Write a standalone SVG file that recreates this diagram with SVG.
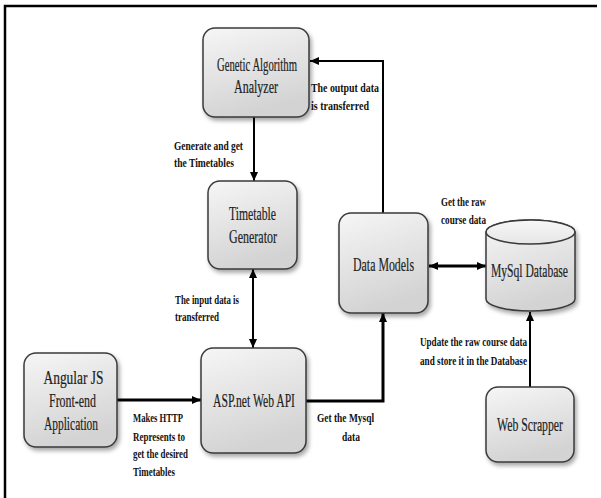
<svg xmlns="http://www.w3.org/2000/svg" width="601" height="498" viewBox="0 0 601 498">
<defs>
<linearGradient id="g" x1="0" y1="0" x2="0.3" y2="1">
<stop offset="0" stop-color="#f6f6f6"/>
<stop offset="1" stop-color="#d3d3d3"/>
</linearGradient>
<linearGradient id="gt" x1="0" y1="0" x2="0" y2="1">
<stop offset="0" stop-color="#f7f7f7"/>
<stop offset="1" stop-color="#e6e6e6"/>
</linearGradient>
<filter id="sh" x="-20%" y="-20%" width="150%" height="150%">
<feDropShadow dx="2" dy="3" stdDeviation="2" flood-color="#000" flood-opacity="0.35"/>
</filter>
<marker id="ah" viewBox="0 0 9 8" refX="9" refY="4" markerWidth="9" markerHeight="8" markerUnits="userSpaceOnUse" orient="auto-start-reverse">
<path d="M0,0 L9,4 L0,8 z" fill="#000"/>
</marker>
</defs>
<style>
.box{fill:url(#g);stroke:#3a3a3a;stroke-width:1.5;filter:url(#sh)}
.nl{font-family:"Liberation Serif","Times New Roman",serif;font-size:18px;fill:#1e1e1e;text-anchor:middle;stroke:#1e1e1e;stroke-width:0.2}
.el{font-family:"Liberation Serif","Times New Roman",serif;font-size:13.5px;font-weight:bold;fill:#111}
.c{fill:none;stroke:#000;stroke-width:2}
.t{fill:none;stroke:#000;stroke-width:3}
.frame{fill:none;stroke:#000;stroke-width:2.5}
</style>
<path class="frame" d="M5,498 V6 H597"/>
<g id="connectors">
<line class="c" x1="254" y1="117" x2="254" y2="181" marker-end="url(#ah)"/>
<line class="c" x1="253" y1="269" x2="253" y2="348" marker-start="url(#ah)" marker-end="url(#ah)"/>
<line class="t" x1="117" y1="400" x2="201" y2="400" marker-end="url(#ah)"/>
<polyline class="t" points="306,401 383,401 383,313" marker-end="url(#ah)"/>
<polyline class="c" points="383,213 383,61 310,61" marker-end="url(#ah)"/>
<line class="t" x1="429" y1="266" x2="486" y2="266" marker-start="url(#ah)" marker-end="url(#ah)"/>
<line class="c" x1="530" y1="387" x2="530" y2="312" marker-end="url(#ah)"/>
</g>
<g id="labels">
<text class="el" x="311" y="92" textLength="68" lengthAdjust="spacingAndGlyphs">The output data</text>
<text class="el" x="311" y="110" textLength="58" lengthAdjust="spacingAndGlyphs">is transferred</text>
<text class="el" x="174" y="150" textLength="69" lengthAdjust="spacingAndGlyphs">Generate and get</text>
<text class="el" x="174" y="167" textLength="60" lengthAdjust="spacingAndGlyphs">the Timetables</text>
<text class="el" x="441" y="206" textLength="45" lengthAdjust="spacingAndGlyphs">Get the raw</text>
<text class="el" x="441" y="224" textLength="45" lengthAdjust="spacingAndGlyphs">course data</text>
<text class="el" x="175" y="304" textLength="64" lengthAdjust="spacingAndGlyphs">The input data is</text>
<text class="el" x="175" y="321" textLength="44" lengthAdjust="spacingAndGlyphs">transferred</text>
<text class="el" x="420" y="346" textLength="107" lengthAdjust="spacingAndGlyphs">Update the raw course data</text>
<text class="el" x="420" y="365" textLength="107" lengthAdjust="spacingAndGlyphs">and store it in the Database</text>
<text class="el" x="133" y="422" textLength="50" lengthAdjust="spacingAndGlyphs">Makes HTTP</text>
<text class="el" x="133" y="441" textLength="52" lengthAdjust="spacingAndGlyphs">Represents to</text>
<text class="el" x="133" y="458" textLength="55" lengthAdjust="spacingAndGlyphs">get the desired</text>
<text class="el" x="133" y="476" textLength="42" lengthAdjust="spacingAndGlyphs">Timetables</text>
<text class="el" x="317" y="422" textLength="57" lengthAdjust="spacingAndGlyphs">Get the Mysql</text>
<text class="el" x="342" y="441" textLength="18" lengthAdjust="spacingAndGlyphs">data</text>
</g>
<g id="gaa">
<rect class="box" x="203" y="28" width="106" height="89" rx="12"/>
<text class="nl" x="257" y="71" textLength="80" lengthAdjust="spacingAndGlyphs">Genetic Algorithm</text>
<text class="nl" x="256" y="93" textLength="44" lengthAdjust="spacingAndGlyphs">Analyzer</text>
</g>
<g id="tg">
<rect class="box" x="208" y="181" width="89" height="88" rx="12"/>
<text class="nl" x="252.5" y="220" textLength="47" lengthAdjust="spacingAndGlyphs">Timetable</text>
<text class="nl" x="253" y="243" textLength="48" lengthAdjust="spacingAndGlyphs">Generator</text>
</g>
<g id="angular">
<rect class="box" x="24" y="353" width="93" height="94" rx="12"/>
<text class="nl" x="73.5" y="384" textLength="60" lengthAdjust="spacingAndGlyphs">Angular JS</text>
<text class="nl" x="72.5" y="407" textLength="47" lengthAdjust="spacingAndGlyphs">Front-end</text>
<text class="nl" x="71" y="430" textLength="54" lengthAdjust="spacingAndGlyphs">Application</text>
</g>
<g id="asp">
<rect class="box" x="201" y="348" width="105" height="105" rx="12"/>
<text class="nl" x="254" y="407" textLength="82" lengthAdjust="spacingAndGlyphs">ASP.net Web API</text>
</g>
<g id="dm">
<rect class="box" x="339" y="213" width="89" height="100" rx="12"/>
<text class="nl" x="383.5" y="271" textLength="61" lengthAdjust="spacingAndGlyphs">Data Models</text>
</g>
<g id="mysql">
<path class="box" d="M486,232 V299 A44.5,12 0 0 0 575,299 V232 A44.5,12 0 0 0 486,232 Z"/>
<ellipse cx="530.5" cy="232" rx="44.5" ry="12" fill="url(#gt)" stroke="#3a3a3a" stroke-width="1.5"/>
<text class="nl" x="529.5" y="277" textLength="77" lengthAdjust="spacingAndGlyphs">MySql Database</text>
</g>
<g id="ws">
<rect class="box" x="486" y="387" width="88" height="75" rx="12"/>
<text class="nl" x="530" y="431" textLength="66" lengthAdjust="spacingAndGlyphs">Web Scrapper</text>
</g>
</svg>
